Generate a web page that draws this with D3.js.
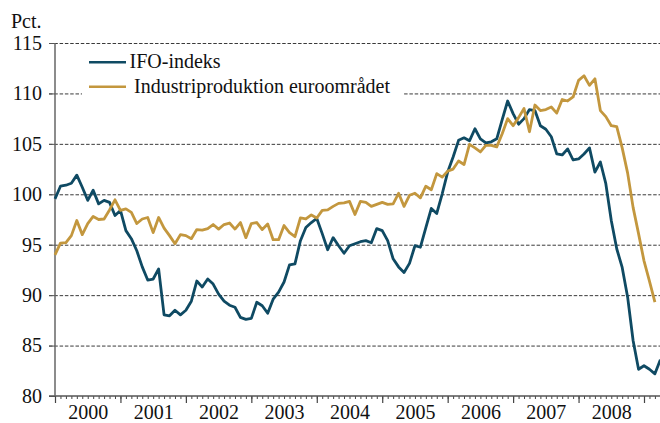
<!DOCTYPE html>
<html>
<head>
<meta charset="utf-8">
<script src="https://cdn.jsdelivr.net/npm/d3@7"></script>
<style>
  html, body { margin: 0; padding: 0; background: #fff; }
  svg { display: block; }
  text { font-family: "Liberation Serif", "Times New Roman", serif; fill: #111; }
</style>
</head>
<body>
<svg id="chart" width="660" height="423"></svg>
<script>
// ---- Data (monthly, starting January 2000) ----
const yearLabels = ["2000","2001","2002","2003","2004","2005","2006","2007","2008"];
const yTicks = [80, 85, 90, 95, 100, 105, 110, 115];
const seriesNames = ["IFO-indeks", "Industriproduktion euroområdet"];

const ifo = [
  99.55,100.8,100.9,101.1,101.9,100.7,99.4,100.4,99.05,99.4,
  99.2,97.9,98.4,96.4,95.6,94.4,92.8,91.5,91.6,92.6,
  88.05,87.95,88.5,88.05,88.5,89.4,91.4,90.8,91.6,91.1,
  90.1,89.4,89.0,88.8,87.8,87.6,87.7,89.3,88.95,88.2,
  89.6,90.3,91.3,93.0,93.1,95.4,96.7,97.2,97.6,96.1,
  94.5,95.7,94.9,94.15,94.9,95.1,95.3,95.4,95.2,96.6,
  96.4,95.4,93.6,92.8,92.25,93.15,94.9,94.75,96.7,98.6,
  98.1,100.05,102.2,103.7,105.35,105.6,105.3,106.5,105.5,105.1,
  105.2,105.5,107.4,109.25,108.0,106.95,107.5,108.4,108.3,106.8,
  106.45,105.7,104.0,103.9,104.5,103.4,103.5,104.0,104.6,102.2,
  103.2,101.05,97.4,94.6,92.75,89.8,85.5,82.65,83.0,82.65,
  82.2,83.6
];

const industri = [
  94.0,95.15,95.2,95.9,97.4,96.0,97.1,97.8,97.5,97.55,
  98.45,99.45,98.4,98.55,98.2,97.1,97.55,97.7,96.2,97.7,
  96.65,95.9,95.1,96.0,95.9,95.6,96.5,96.45,96.6,97.0,
  96.55,97.0,97.15,96.55,97.2,95.7,97.1,97.2,96.5,97.05,
  95.5,95.5,96.9,96.2,95.8,97.65,97.55,97.95,97.65,98.4,
  98.45,98.8,99.1,99.15,99.3,98.0,99.3,99.2,98.8,99.0,
  99.2,99.0,99.05,100.1,98.8,99.9,100.1,99.65,100.8,100.45,
  102.05,101.7,102.3,102.5,103.3,102.95,104.95,104.6,104.2,104.85,
  104.85,104.7,106.0,107.5,106.8,107.6,108.5,106.2,108.85,108.3,
  108.4,108.65,108.05,109.4,109.25,109.65,111.3,111.75,110.8,111.45,
  108.3,107.7,106.8,106.7,104.6,102.1,98.7,96.1,93.4,91.4,
  89.3
];

// ---- Layout ----
const svg = d3.select("#chart");
const mLeft = 55, mRight = 660, mTop = 43, mBottom = 396;
const monthsPerYear = 12;
const nYears = yearLabels.length;
const yearEnd = 644;
const lastIdx = ifo.length - 1;

const x = d3.scaleLinear()
  .domain([0, nYears * monthsPerYear])
  .range([mLeft, yearEnd]);
const y = d3.scaleLinear().domain([80, 115]).range([mBottom, mTop]);

const colIFO = "#0f4a63";
const colInd = "#c3973e";
const fontSize = 20;

// Gridlines (dashed), via axis
const grid = svg.append("g")
  .attr("transform", `translate(${mLeft - 6},0)`)
  .call(d3.axisRight(y).tickValues(yTicks.filter(v => v !== 80)).tickSize(mRight - mLeft + 6).tickFormat(""));
grid.select(".domain").remove();
grid.selectAll("line")
  .attr("stroke", "#3a3a3a")
  .attr("stroke-width", 1)
  .attr("stroke-dasharray", "3.5,1.8");

// Y axis labels
const yAxis = svg.append("g")
  .attr("transform", `translate(${mLeft},0)`)
  .call(d3.axisLeft(y).tickValues(yTicks).tickSize(6).tickPadding(7));
yAxis.select(".domain").remove();
yAxis.selectAll("line").attr("stroke", "#555");
yAxis.selectAll("text")
  .style("font-family", '"Liberation Serif", serif')
  .style("font-size", fontSize + "px")
  .attr("fill", "#111");

// "Pct." label
svg.append("text").attr("x", 11).attr("y", 28)
  .style("font-size", fontSize + "px").text("Pct.");

// X axis: monthly minor ticks
const monthTicks = d3.range(0, lastIdx + 1);
const xMinor = svg.append("g")
  .attr("transform", `translate(0,${mBottom})`)
  .call(d3.axisBottom(x).tickValues(monthTicks).tickSize(3).tickFormat(""));
xMinor.select(".domain").remove();
xMinor.selectAll("line").attr("stroke", "#444");

// Year major ticks
const xMajor = svg.append("g")
  .attr("transform", `translate(0,${mBottom})`)
  .call(d3.axisBottom(x).tickValues(d3.range(0, nYears + 1).map(k => k * monthsPerYear)).tickSize(7).tickFormat(""));
xMajor.select(".domain").remove();
xMajor.selectAll("line").attr("stroke", "#444").attr("stroke-width", 1.2);

// Year labels centered in each year
const xLab = svg.append("g")
  .attr("transform", `translate(0,${mBottom})`)
  .call(d3.axisBottom(x).tickValues(yearLabels.map((d, k) => k * monthsPerYear + 6))
    .tickSize(0).tickPadding(0).tickFormat((d, k) => yearLabels[k]));
xLab.select(".domain").remove();
xLab.selectAll("text")
  .attr("y", 22.5).attr("dy", null)
  .style("font-family", '"Liberation Serif", serif')
  .style("font-size", fontSize + "px")
  .attr("fill", "#111");

// Axis lines
svg.append("line")
  .attr("x1", mLeft - 6).attr("x2", mRight)
  .attr("y1", y(80)).attr("y2", y(80))
  .attr("stroke", "#555").attr("stroke-width", 1.5);
svg.append("line")
  .attr("x1", mLeft).attr("x2", mLeft)
  .attr("y1", y(115)).attr("y2", y(80))
  .attr("stroke", "#666").attr("stroke-width", 1.5);

// Lines
const line = d3.line().x((d, i) => x(i)).y(d => y(d));
svg.append("path").datum(ifo)
  .attr("d", line).attr("fill", "none")
  .attr("stroke", colIFO).attr("stroke-width", 2.8)
  .attr("stroke-linejoin", "round");
svg.append("path").datum(industri)
  .attr("d", line).attr("fill", "none")
  .attr("stroke", colInd).attr("stroke-width", 2.8)
  .attr("stroke-linejoin", "round");

// Legend
const lg = svg.append("g");
lg.append("rect").attr("x", 82).attr("y", 50).attr("width", 322).attr("height", 48).attr("fill", "#fff");
const legendItems = [
  { name: seriesNames[0], color: colIFO, ly: 62.3, tx: 129.5 },
  { name: seriesNames[1], color: colInd, ly: 86.7, tx: 134 }
];
legendItems.forEach(it => {
  lg.append("line").attr("x1", 89).attr("x2", 126).attr("y1", it.ly).attr("y2", it.ly)
    .attr("stroke", it.color).attr("stroke-width", 2.6);
  lg.append("text").attr("x", it.tx).attr("y", it.ly + 6)
    .style("font-size", fontSize + "px").text(it.name);
});
</script>
</body>
</html>
